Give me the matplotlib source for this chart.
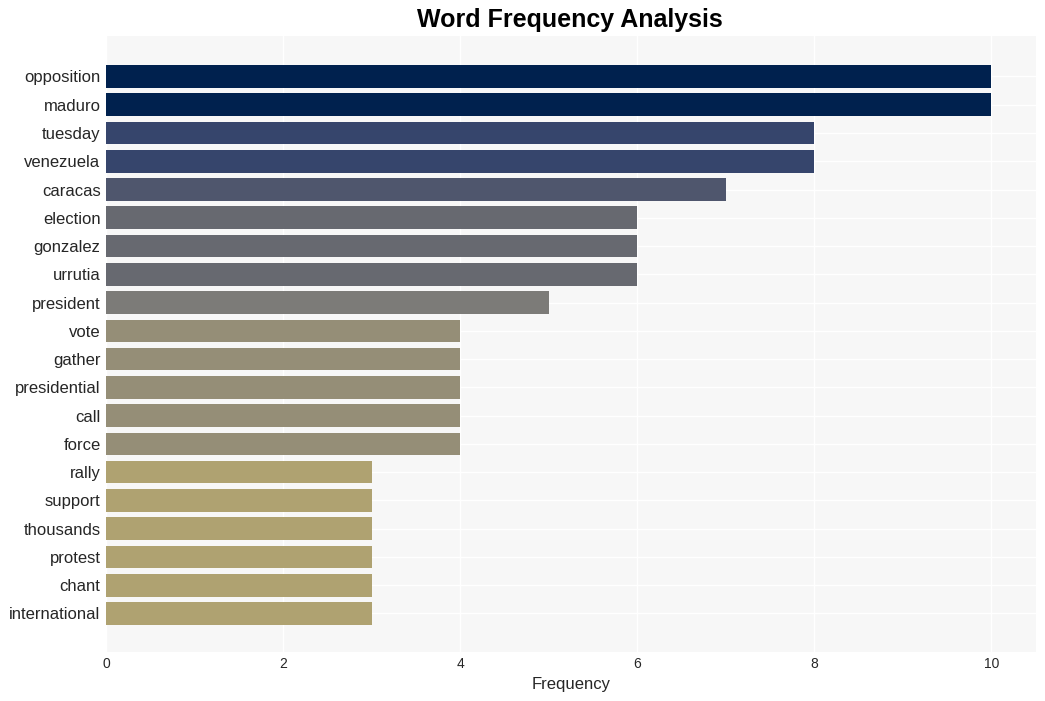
import matplotlib
matplotlib.use("Agg")
import matplotlib.pyplot as plt

plt.rcParams['font.family'] = ['Liberation Sans', 'DejaVu Sans']

words = ["opposition", "maduro", "tuesday", "venezuela", "caracas", "election",
         "gonzalez", "urrutia", "president", "vote", "gather", "presidential",
         "call", "force", "rally", "support", "thousands", "protest", "chant",
         "international"]
counts = [10, 10, 8, 8, 7, 6, 6, 6, 5, 4, 4, 4, 4, 4, 3, 3, 3, 3, 3, 3]

# colour per frequency
color_by_count = {10: "#00214e", 8: "#36456c", 7: "#4f566d", 6: "#676970",
                  5: "#7c7b78", 4: "#958e77", 3: "#afa271"}
colors = [color_by_count[c] for c in counts]

fig, ax = plt.subplots(figsize=(10.45, 7.01), dpi=100)
fig.subplots_adjust(left=0.1015, right=0.991, top=0.949, bottom=0.07)

ax.set_facecolor("#f7f7f7")
ypos = list(range(len(words)))
ax.barh(ypos, counts, height=0.8, color=colors, zorder=2)
ax.set_yticks(ypos)
ax.set_yticklabels(words)
ax.set_ylim(20.36, -1.44)
ax.set_xlim(0, 10.5)
ax.set_xticks([0, 2, 4, 6, 8, 10])

ax.grid(True, color="white", linewidth=1.0, zorder=0)
ax.set_axisbelow(True)
for s in ax.spines.values():
    s.set_visible(False)
ax.tick_params(axis="both", length=0, colors="#262626")
ax.tick_params(axis="y", labelsize=12, pad=4)
ax.tick_params(axis="x", labelsize=10, pad=4)

ax.set_xlabel("Frequency", fontsize=12, color="#262626", labelpad=4)
fig.suptitle("Word Frequency Analysis", fontsize=18, fontweight="bold", x=0.545, y=0.988)

fig.savefig("out.png", dpi=100)
